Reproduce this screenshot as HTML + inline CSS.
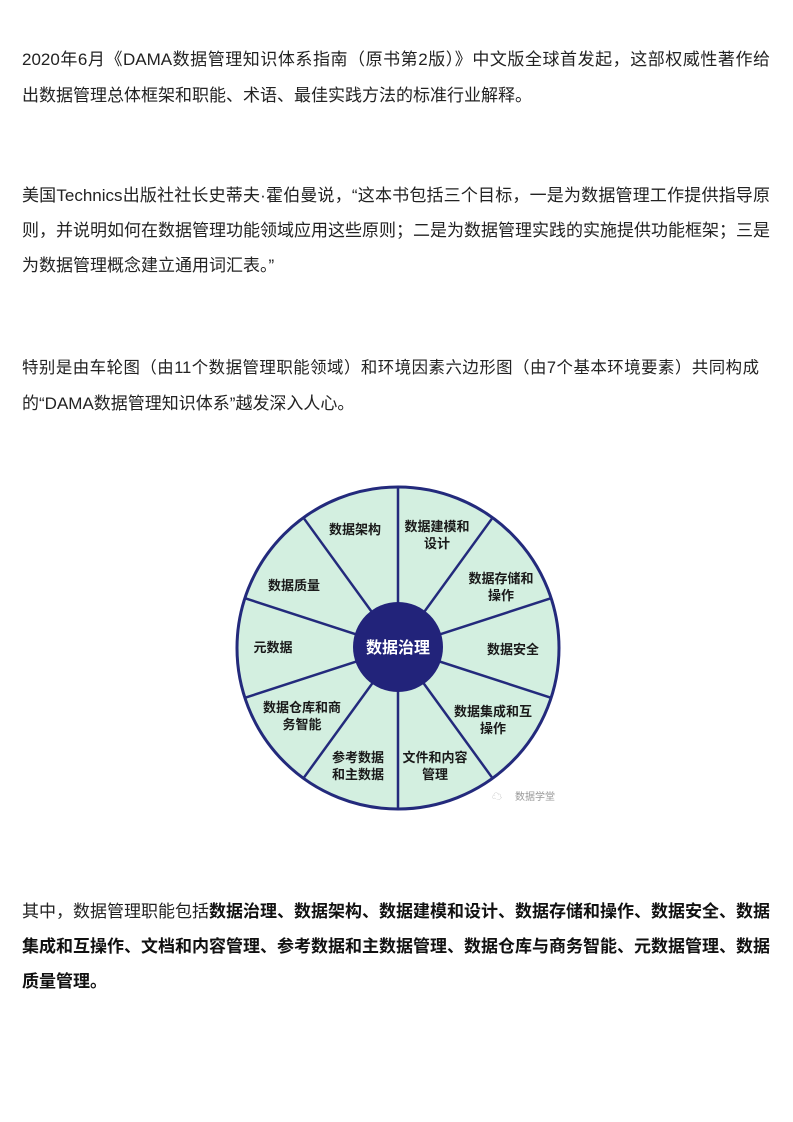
<!DOCTYPE html>
<html><head><meta charset="utf-8"><style>
body{margin:0;background:#fff;width:793px;height:1122px;position:relative;overflow:hidden;font-family:"Liberation Sans","Noto Sans CJK SC",sans-serif;color:#222;}
.l{position:absolute;left:22px;font-size:17px;line-height:20px;white-space:nowrap;}
.j{width:748px;text-align:justify;text-align-last:justify;white-space:normal;height:20px;}
b{font-weight:bold;color:#111;}
</style></head><body>
<div class="l j" style="top:50px">2020年6月《DAMA数据管理知识体系指南（原书第2版）》中文版全球首发起，这部权威性著作给</div>
<div class="l" style="top:86px">出数据管理总体框架和职能、术语、最佳实践方法的标准行业解释。</div>
<div class="l j" style="top:186px">美国Technics出版社社长史蒂夫·霍伯曼说，“这本书包括三个目标，一是为数据管理工作提供指导原</div>
<div class="l j" style="top:221px">则，并说明如何在数据管理功能领域应用这些原则；二是为数据管理实践的实施提供功能框架；三是</div>
<div class="l" style="top:256px">为数据管理概念建立通用词汇表。”</div>
<div class="l j" style="top:358px;width:737px;font-size:16.4px">特别是由车轮图（由11个数据管理职能领域）和环境因素六边形图（由7个基本环境要素）共同构成</div>
<div class="l" style="top:394px">的“DAMA数据管理知识体系”越发深入人心。</div>

<svg style="position:absolute;left:0;top:0" width="793" height="1122">
<circle cx="398" cy="648" r="161" fill="#d3efe0" stroke="#232a7c" stroke-width="3"/>
<g stroke="#232a7c" stroke-width="2.5">
<line x1="398" y1="648" x2="398" y2="487"/>
<line x1="398" y1="648" x2="398" y2="809"/>
<line x1="398" y1="648" x2="492.6" y2="517.7"/>
<line x1="398" y1="648" x2="551.1" y2="598.2"/>
<line x1="398" y1="648" x2="551.1" y2="697.8"/>
<line x1="398" y1="648" x2="492.6" y2="778.3"/>
<line x1="398" y1="648" x2="303.4" y2="517.7"/>
<line x1="398" y1="648" x2="244.9" y2="598.2"/>
<line x1="398" y1="648" x2="244.9" y2="697.8"/>
<line x1="398" y1="648" x2="303.4" y2="778.3"/>
</g>
<circle cx="398" cy="647" r="45" fill="#22237a"/>
<g font-family="Liberation Sans,Noto Sans CJK SC,sans-serif" font-weight="bold" font-size="13" fill="#1a1a1a" text-anchor="middle">
<text x="398" y="653" fill="#fff" font-size="16">数据治理</text>
<text x="355" y="534">数据架构</text>
<text x="437" y="531">数据建模和</text><text x="437" y="548">设计</text>
<text x="501" y="583">数据存储和</text><text x="501" y="600">操作</text>
<text x="513" y="654">数据安全</text>
<text x="493" y="716">数据集成和互</text><text x="493" y="733">操作</text>
<text x="435" y="762">文件和内容</text><text x="435" y="779">管理</text>
<text x="358" y="762">参考数据</text><text x="358" y="779">和主数据</text>
<text x="302" y="712">数据仓库和商</text><text x="302" y="729">务智能</text>
<text x="273" y="652">元数据</text>
<text x="294" y="590">数据质量</text>
<text x="535" y="800" font-weight="normal" font-size="10" fill="#999">数据学堂</text>
<text x="497" y="800" font-weight="normal" font-size="10" fill="#bbb">☁</text>
</g>
</svg>

<div class="l j" style="top:902px">其中，数据管理职能包括<b>数据治理、数据架构、数据建模和设计、数据存储和操作、数据安全、数据</b></div>
<div class="l j" style="top:937px"><b>集成和互操作、文档和内容管理、参考数据和主数据管理、数据仓库与商务智能、元数据管理、数据</b></div>
<div class="l" style="top:972px"><b>质量管理。</b></div>
</body></html>
